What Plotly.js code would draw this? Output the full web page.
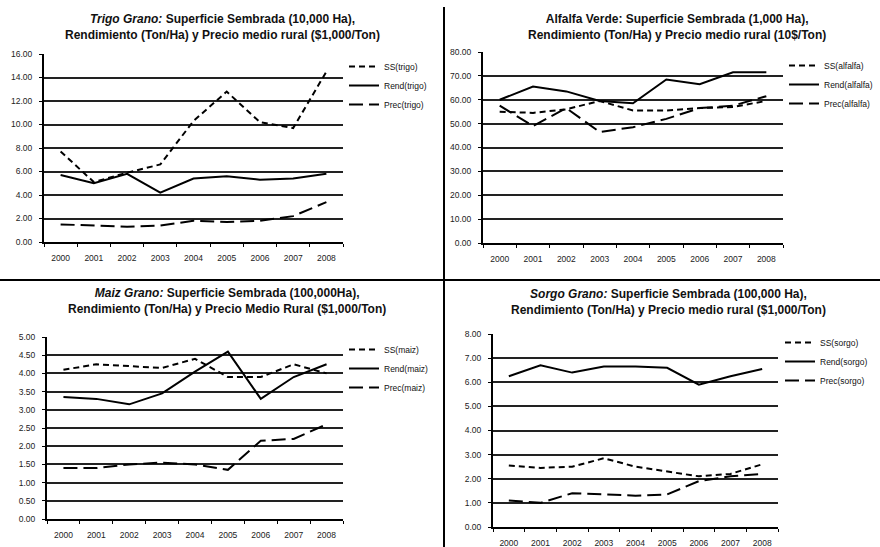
<!DOCTYPE html>
<html><head><meta charset="utf-8">
<script src="https://cdn.plot.ly/plotly-3.0.1.min.js"></script>
<style>html,body{margin:0;padding:0;background:#fff}#chart{width:880px;height:547px}</style>
</head><body><div id="chart"></div>
<script>
const years = ["2000","2001","2002","2003","2004","2005","2006","2007","2008"];

const ssTrigo   = [7.7, 5.1, 5.9, 6.6, 10.3, 12.8, 10.2, 9.7, 14.5];
const rendTrigo = [5.7, 5.0, 5.8, 4.2, 5.4, 5.6, 5.3, 5.4, 5.8];
const precTrigo = [1.5, 1.4, 1.3, 1.4, 1.8, 1.7, 1.8, 2.2, 3.4];

const ssAlfalfa   = [55.0, 54.5, 56.0, 59.5, 55.5, 55.5, 56.5, 57.0, 59.5];
const rendAlfalfa = [60.0, 65.5, 63.5, 59.5, 58.5, 68.5, 66.5, 71.5, 71.5];
const precAlfalfa = [57.5, 49.0, 56.5, 46.5, 48.5, 52.0, 56.5, 57.5, 61.5];

const ssMaiz   = [4.10, 4.25, 4.20, 4.15, 4.40, 3.90, 3.90, 4.25, 4.00];
const rendMaiz = [3.35, 3.30, 3.15, 3.45, 4.05, 4.60, 3.30, 3.90, 4.25];
const precMaiz = [1.40, 1.40, 1.50, 1.55, 1.50, 1.35, 2.15, 2.20, 2.60];

const ssSorgo   = [2.55, 2.45, 2.50, 2.85, 2.50, 2.30, 2.10, 2.20, 2.60];
const rendSorgo = [6.25, 6.70, 6.40, 6.65, 6.65, 6.60, 5.90, 6.25, 6.55];
const precSorgo = [1.10, 1.00, 1.40, 1.35, 1.30, 1.35, 1.90, 2.10, 2.20];

const names = [
  ["SS(trigo)","Rend(trigo)","Prec(trigo)"],
  ["SS(alfalfa)","Rend(alfalfa)","Prec(alfalfa)"],
  ["SS(maiz)","Rend(maiz)","Prec(maiz)"],
  ["SS(sorgo)","Rend(sorgo)","Prec(sorgo)"]
];
const titles = [
  "<b><i>Trigo Grano:</i> Superficie Sembrada (10,000 Ha),<br>Rendimiento (Ton/Ha) y Precio medio rural ($1,000/Ton)</b>",
  "<b>Alfalfa Verde: Superficie Sembrada (1,000 Ha),<br>Rendimiento (Ton/Ha) y Precio medio rural (10$/Ton)</b>",
  "<b><i>Maiz Grano:</i> Superficie Sembrada (100,000Ha),<br>Rendimiento (Ton/Ha) y Precio Medio Rural ($1,000/Ton)</b>",
  "<b><i>Sorgo Grano:</i> Superficie Sembrada (100,000 Ha),<br>Rendimiento (Ton/Ha) y Precio medio rural ($1,000/Ton)</b>"
];
const seriesData = [
  [ssTrigo, rendTrigo, precTrigo],
  [ssAlfalfa, rendAlfalfa, precAlfalfa],
  [ssMaiz, rendMaiz, precMaiz],
  [ssSorgo, rendSorgo, precSorgo]
];
const yMax = [16, 80, 5, 8];
const yStep = [2, 10, 0.5, 1];

const W = 880, H = 547;
// plot boxes in pixels: [left, right, top, bottom]
const boxes = [[44, 343, 54, 242], [483, 783, 52, 243], [47, 343, 337, 519], [493, 778, 334, 527]];
const titleY = [27, 27, 301, 302];
const titleX = [222, 677, 227, 668];
const legendPos = [[344, 52], [784, 51], [344, 335], [780, 328]];

const dashes = ["6px,4px", "solid", "14px,6px"];
const FONT = "Liberation Sans, Arial, sans-serif";

const traces = [];
const layout = {
  width: W, height: H,
  margin: {l: 0, r: 0, t: 0, b: 0},
  paper_bgcolor: "#fff", plot_bgcolor: "#fff",
  font: {family: FONT, color: "#111"},
  annotations: [], shapes: []
};

for (let p = 0; p < 4; p++) {
  const sfx = p === 0 ? "" : String(p + 1);
  const legendId = p === 0 ? "legend" : "legend" + (p + 1);
  for (let s = 0; s < 3; s++) {
    traces.push({
      type: "scatter", mode: "lines",
      x: years, y: seriesData[p][s], name: names[p][s],
      xaxis: "x" + sfx, yaxis: "y" + sfx, legend: legendId,
      line: {color: "#000", width: 2, dash: dashes[s]},
      hoverinfo: "skip"
    });
  }
  const b = boxes[p];
  layout["xaxis" + sfx] = {
    type: "category", domain: [b[0] / W, b[1] / W], anchor: "y" + sfx,
    range: [-0.5, 8.5], showgrid: false, zeroline: false,
    showline: true, linecolor: "#000", linewidth: 2,
    ticks: "outside", tickson: "boundaries", ticklen: 3, tickcolor: "#000",
    tickfont: {size: 8.5, family: FONT, color: "#222"}, ticklabelstandoff: 7,
    fixedrange: true
  };
  layout["yaxis" + sfx] = {
    domain: [1 - b[3] / H, 1 - b[2] / H], anchor: "x" + sfx,
    range: [0, yMax[p]], dtick: yStep[p], tick0: 0, tickformat: ".2f",
    showgrid: true, gridcolor: "#222", gridwidth: 2, zeroline: false,
    showline: true, linecolor: "#000", linewidth: 2,
    ticks: "outside", ticklen: 3, tickcolor: "#000",
    tickfont: {size: 8.5, family: FONT, color: "#222"}, ticklabelstandoff: 5,
    fixedrange: true
  };
  layout[legendId] = {
    x: legendPos[p][0] / W, y: 1 - legendPos[p][1] / H,
    xanchor: "left", yanchor: "top",
    bgcolor: "rgba(0,0,0,0)", borderwidth: 0,
    font: {size: 8.5, family: FONT, color: "#111"},
    itemwidth: 30, tracegroupgap: 0
  };
  layout.annotations.push({
    xref: "paper", yref: "paper",
    x: titleX[p] / W, y: 1 - titleY[p] / H,
    xanchor: "center", yanchor: "middle", showarrow: false,
    text: titles[p], align: "center",
    font: {size: 12, family: FONT, color: "#111"}
  });
}
// panel separators
layout.shapes.push({type: "line", xref: "paper", yref: "paper",
  x0: 444 / W, x1: 444 / W, y0: 0, y1: 1 - 7 / H, line: {color: "#000", width: 2}});
layout.shapes.push({type: "line", xref: "paper", yref: "paper",
  x0: 0, x1: 1, y0: 1 - 280 / H, y1: 1 - 280 / H, line: {color: "#000", width: 2}});

Plotly.newPlot("chart", traces, layout, {displayModeBar: false, staticPlot: true});
</script>
</body></html>
